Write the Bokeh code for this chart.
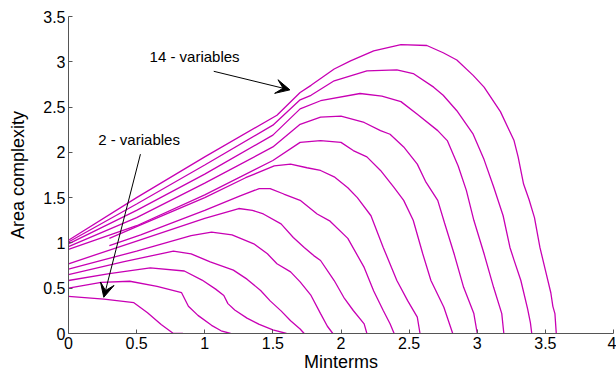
from bokeh.plotting import figure
from bokeh.models import Range1d, Arrow, VeeHead, Label, FixedTicker
from bokeh.embed import file_html
from bokeh.resources import INLINE

# curves: Area complexity vs Minterms for 2..14 variables
x2 = [0, 0.26, 0.48, 0.58, 0.68, 0.77, 0.84]
y2 = [0.41, 0.38, 0.34, 0.23, 0.10, 0.0, 0.0]

x3 = [0, 0.24, 0.45, 0.65, 0.83, 0.88, 0.95, 1.05, 1.12, 1.19]
y3 = [0.50, 0.565, 0.577, 0.52, 0.45, 0.30, 0.20, 0.09, 0.03, 0.0]

x4 = [0, 0.3, 0.6, 0.85, 0.98, 1.08, 1.14, 1.17, 1.22, 1.31, 1.40, 1.50, 1.60]
y4 = [0.585, 0.66, 0.725, 0.69, 0.59, 0.49, 0.42, 0.33, 0.26, 0.17, 0.10, 0.04, 0.0]

x5 = [0, 0.4, 0.77, 0.9, 1.04, 1.21, 1.31, 1.41, 1.48, 1.56, 1.63, 1.70, 1.73]
y5 = [0.65, 0.79, 0.91, 0.88, 0.79, 0.70, 0.60, 0.475, 0.36, 0.25, 0.14, 0.05, 0.0]

x6 = [0, 0.5, 0.9, 1.05, 1.2, 1.36, 1.46, 1.53, 1.63, 1.70, 1.78, 1.85, 1.90, 1.94]
y6 = [0.71, 0.91, 1.08, 1.12, 1.09, 0.99, 0.88, 0.77, 0.68, 0.57, 0.42, 0.22, 0.08, 0.0]

x7 = [0, 0.5, 1.0, 1.25, 1.35, 1.43, 1.56, 1.65, 1.73, 1.80, 1.85, 1.95, 2.02, 2.09, 2.17, 2.19]
y7 = [0.77, 1.02, 1.27, 1.38, 1.36, 1.32, 1.21, 1.06, 0.95, 0.86, 0.806, 0.585, 0.40, 0.254, 0.107, 0.0]

x8 = [0.3, 0.53, 1.0, 1.26, 1.40, 1.48, 1.58, 1.70, 1.825, 1.92, 2.05, 2.17, 2.24, 2.31, 2.36, 2.39]
y8 = [0.97, 1.09, 1.36, 1.52, 1.60, 1.60, 1.54, 1.47, 1.32, 1.24, 1.05, 0.73, 0.47, 0.254, 0.107, 0.0]

x9 = [0.3, 0.53, 1.0, 1.3, 1.51, 1.63, 1.75, 1.85, 1.95, 2.05, 2.12, 2.22, 2.31, 2.41, 2.49, 2.56, 2.58]
y9 = [1.05, 1.20, 1.50, 1.72, 1.85, 1.87, 1.83, 1.80, 1.73, 1.61, 1.50, 1.30, 0.95, 0.585, 0.36, 0.18, 0.0]

x10 = [0, 0.5, 1.0, 1.5, 1.70, 1.85, 2.0, 2.09, 2.19, 2.29, 2.39, 2.46, 2.53, 2.60, 2.66, 2.755, 2.82]
y10 = [0.93, 1.19, 1.53, 1.91, 2.11, 2.13, 2.11, 2.02, 1.95, 1.80, 1.61, 1.47, 1.25, 0.88, 0.585, 0.29, 0.0]

x11 = [0, 0.5, 1.0, 1.5, 1.70, 1.85, 2.0, 2.17, 2.29, 2.36, 2.46, 2.56, 2.62, 2.71, 2.76, 2.83, 2.90, 2.975, 3.0]
y11 = [0.96, 1.28, 1.66, 2.06, 2.31, 2.39, 2.40, 2.33, 2.24, 2.20, 2.06, 1.87, 1.68, 1.47, 1.22, 0.88, 0.51, 0.22, 0.0]

x12 = [0, 0.5, 1.0, 1.5, 1.70, 1.85, 2.14, 2.30, 2.44, 2.56, 2.71, 2.78, 2.86, 2.92, 2.975, 3.05, 3.12, 3.18, 3.195]
y12 = [0.99, 1.36, 1.76, 2.19, 2.48, 2.57, 2.65, 2.62, 2.56, 2.42, 2.24, 2.13, 1.85, 1.58, 1.25, 0.88, 0.51, 0.22, 0.0]

x13 = [0, 0.5, 1.0, 1.5, 1.70, 1.78, 1.95, 2.19, 2.41, 2.53, 2.68, 2.75, 2.85, 2.97, 3.05, 3.12, 3.19, 3.24, 3.27, 3.32, 3.37, 3.39, 3.40]
y13 = [1.01, 1.43, 1.86, 2.30, 2.58, 2.63, 2.79, 2.90, 2.91, 2.87, 2.72, 2.63, 2.46, 2.20, 1.92, 1.62, 1.30, 0.95, 0.81, 0.585, 0.27, 0.12, 0.0]

x14 = [0, 0.5, 1.0, 1.53, 1.70, 1.78, 1.95, 2.07, 2.24, 2.44, 2.63, 2.75, 2.85, 2.97, 3.05, 3.17, 3.27, 3.30, 3.34, 3.38, 3.42, 3.46, 3.50, 3.54, 3.555, 3.57, 3.58]
y14 = [1.03, 1.50, 1.95, 2.41, 2.66, 2.74, 2.92, 3.01, 3.12, 3.19, 3.18, 3.10, 3.02, 2.85, 2.72, 2.45, 2.13, 1.95, 1.65, 1.48, 1.28, 0.95, 0.70, 0.45, 0.30, 0.22, 0.0]

curves = [(x2, y2), (x3, y3), (x4, y4), (x5, y5), (x6, y6), (x7, y7), (x8, y8),
          (x9, y9), (x10, y10), (x11, y11), (x12, y12), (x13, y13), (x14, y14)]

x_ticks = [0, 0.5, 1, 1.5, 2, 2.5, 3, 3.5, 4]
y_ticks = [0, 0.5, 1, 1.5, 2, 2.5, 3, 3.5]
x_tick_labels = {0: "0", 0.5: "0.5", 1: "1", 1.5: "1.5", 2: "2", 2.5: "2.5", 3: "3", 3.5: "3.5", 4: "4"}
y_tick_labels = {0: "0", 0.5: "0.5", 1: "1", 1.5: "1.5", 2: "2", 2.5: "2.5", 3: "3", 3.5: "3.5"}

FONT = "Liberation Sans"
COLOR = "#c800b4"

p = figure(width=616, height=375, output_backend="svg", toolbar_location=None,
           x_range=Range1d(0, 4), y_range=Range1d(0, 3.5),
           min_border_left=68, min_border_right=3, min_border_top=16, min_border_bottom=42)
p.outline_line_color = None
p.grid.visible = False
p.background_fill_color = "white"
p.border_fill_color = "white"

for xs, ys in curves:
    p.line(xs, ys, line_color=COLOR, line_width=1.3)

for ax, ticks, labels in ((p.xaxis[0], x_ticks, x_tick_labels), (p.yaxis[0], y_ticks, y_tick_labels)):
    ax.ticker = FixedTicker(ticks=ticks)
    ax.major_label_overrides = labels
    ax.minor_tick_line_color = None
    ax.major_tick_in = 4
    ax.major_tick_out = 0
    ax.axis_line_color = "#555555"
    ax.major_tick_line_color = "#555555"
    ax.major_label_text_font = FONT
    ax.major_label_text_font_size = "16px"
    ax.major_label_text_color = "black"
    ax.axis_label_text_font = FONT
    ax.axis_label_text_font_size = "18px"
    ax.axis_label_text_font_style = "normal"
    ax.axis_label_text_color = "black"
    ax.major_label_standoff = 3

p.xaxis.axis_label = "Minterms"
p.yaxis.axis_label = "Area complexity"
p.xaxis.axis_label_standoff = 0
p.yaxis.axis_label_standoff = 12

p.add_layout(Label(x=0.595, y=2.97, text="14 - variables", text_font=FONT,
                   text_font_size="15px", text_color="black"))
p.add_layout(Label(x=0.218, y=2.05, text="2 - variables", text_font=FONT,
                   text_font_size="15px", text_color="black"))

p.add_layout(Arrow(x_start=1.066, y_start=2.895, x_end=1.625, y_end=2.69,
                   line_color="black", line_width=1,
                   end=VeeHead(size=14, fill_color="black", line_color="black", line_width=1)))
p.add_layout(Arrow(x_start=0.528, y_start=1.98, x_end=0.259, y_end=0.40,
                   line_color="black", line_width=1,
                   end=VeeHead(size=14, fill_color="black", line_color="black", line_width=1)))

open("out.html", "w").write(file_html(p, INLINE))
